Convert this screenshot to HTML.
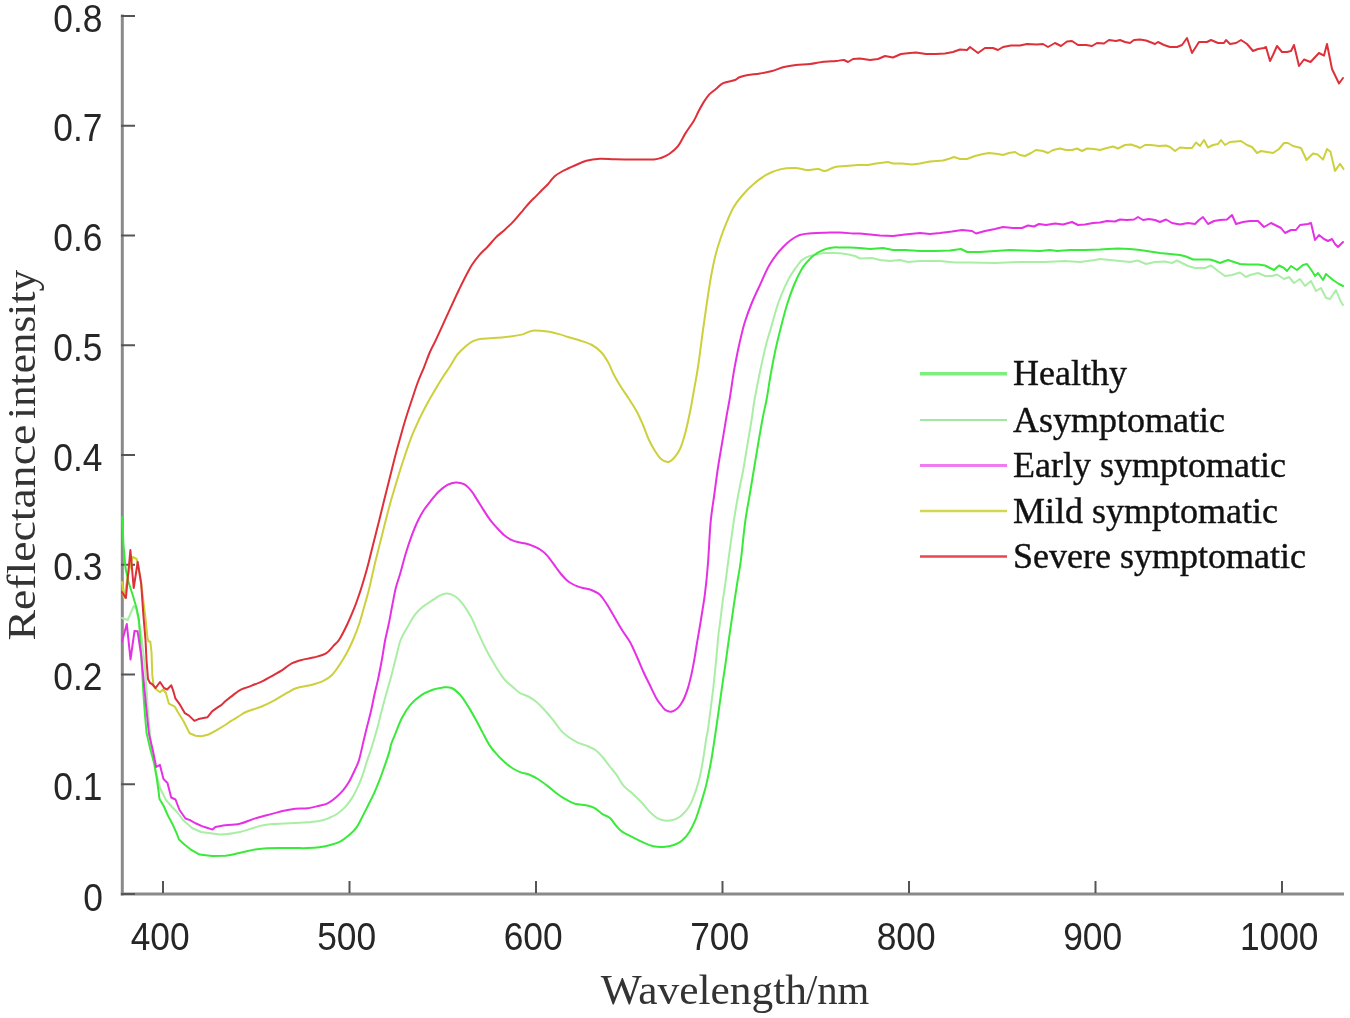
<!DOCTYPE html>
<html><head><meta charset="utf-8"><title>Reflectance spectra</title>
<style>
html,body{margin:0;padding:0;background:#fff;}
body{width:1350px;height:1018px;overflow:hidden;}
svg{display:block;}
.tl{font-family:"Liberation Sans",Arial,sans-serif;font-size:38px;fill:#262626;}
.at{font-family:"Liberation Serif","Times New Roman",serif;font-size:43px;fill:#333;}
.at2{font-family:"Liberation Serif","Times New Roman",serif;font-size:44px;fill:#333;}
.lg{font-family:"Liberation Serif","Times New Roman",serif;font-size:36px;fill:#111;stroke:#111;stroke-width:0.4px;}
</style></head>
<body>
<svg width="1350" height="1018" viewBox="0 0 1350 1018">
<rect width="1350" height="1018" fill="#fff"/>
<line x1="122.3" y1="14.5" x2="122.3" y2="895.5" stroke="#8a8a8a" stroke-width="3"/>
<line x1="120.8" y1="894" x2="1344" y2="894" stroke="#8a8a8a" stroke-width="3"/>
<line x1="121" y1="894.00" x2="135" y2="894.00" stroke="#555" stroke-width="2"/>
<line x1="121" y1="784.25" x2="135" y2="784.25" stroke="#555" stroke-width="2"/>
<line x1="121" y1="674.50" x2="135" y2="674.50" stroke="#555" stroke-width="2"/>
<line x1="121" y1="564.75" x2="135" y2="564.75" stroke="#555" stroke-width="2"/>
<line x1="121" y1="455.00" x2="135" y2="455.00" stroke="#555" stroke-width="2"/>
<line x1="121" y1="345.25" x2="135" y2="345.25" stroke="#555" stroke-width="2"/>
<line x1="121" y1="235.50" x2="135" y2="235.50" stroke="#555" stroke-width="2"/>
<line x1="121" y1="125.75" x2="135" y2="125.75" stroke="#555" stroke-width="2"/>
<line x1="121" y1="16.00" x2="135" y2="16.00" stroke="#555" stroke-width="2"/>
<line x1="163.00" y1="881" x2="163.00" y2="893" stroke="#555" stroke-width="2"/>
<line x1="349.50" y1="881" x2="349.50" y2="893" stroke="#555" stroke-width="2"/>
<line x1="536.00" y1="881" x2="536.00" y2="893" stroke="#555" stroke-width="2"/>
<line x1="722.50" y1="881" x2="722.50" y2="893" stroke="#555" stroke-width="2"/>
<line x1="909.00" y1="881" x2="909.00" y2="893" stroke="#555" stroke-width="2"/>
<line x1="1095.50" y1="881" x2="1095.50" y2="893" stroke="#555" stroke-width="2"/>
<line x1="1282.00" y1="881" x2="1282.00" y2="893" stroke="#555" stroke-width="2"/>
<text x="0" y="0" transform="translate(103.0,911.00) scale(0.93,1)" text-anchor="end" class="tl">0</text>
<text x="0" y="0" transform="translate(102.5,799.95) scale(0.93,1)" text-anchor="end" class="tl">0.1</text>
<text x="0" y="0" transform="translate(102.5,690.20) scale(0.93,1)" text-anchor="end" class="tl">0.2</text>
<text x="0" y="0" transform="translate(102.5,580.45) scale(0.93,1)" text-anchor="end" class="tl">0.3</text>
<text x="0" y="0" transform="translate(102.5,470.70) scale(0.93,1)" text-anchor="end" class="tl">0.4</text>
<text x="0" y="0" transform="translate(102.5,360.95) scale(0.93,1)" text-anchor="end" class="tl">0.5</text>
<text x="0" y="0" transform="translate(102.5,251.20) scale(0.93,1)" text-anchor="end" class="tl">0.6</text>
<text x="0" y="0" transform="translate(102.5,141.45) scale(0.93,1)" text-anchor="end" class="tl">0.7</text>
<text x="0" y="0" transform="translate(102.5,31.70) scale(0.93,1)" text-anchor="end" class="tl">0.8</text>
<text x="0" y="0" transform="translate(160.20,950) scale(0.93,1)" text-anchor="middle" class="tl">400</text>
<text x="0" y="0" transform="translate(346.70,950) scale(0.93,1)" text-anchor="middle" class="tl">500</text>
<text x="0" y="0" transform="translate(533.20,950) scale(0.93,1)" text-anchor="middle" class="tl">600</text>
<text x="0" y="0" transform="translate(719.70,950) scale(0.93,1)" text-anchor="middle" class="tl">700</text>
<text x="0" y="0" transform="translate(906.20,950) scale(0.93,1)" text-anchor="middle" class="tl">800</text>
<text x="0" y="0" transform="translate(1092.70,950) scale(0.93,1)" text-anchor="middle" class="tl">900</text>
<text x="0" y="0" transform="translate(1279.20,950) scale(0.93,1)" text-anchor="middle" class="tl">1000</text>
<text x="0" y="0" transform="translate(600.7,1004.4) scale(1.01,1)" class="at">Wavelength</text>
<text x="0" y="0" transform="translate(805.9,1004.4) scale(0.948,1)" class="at">/nm</text>
<text x="0" y="0" transform="translate(35.3,640.4) rotate(-90) scale(1.039,0.93)" class="at2">Reflectance</text>
<text x="0" y="0" transform="translate(35.3,419.1) rotate(-90) scale(0.985,0.93)" class="at2">intensity</text>
<path d="M122.0,618.0L127.8,620.0L133.7,606.0L136.7,610.0L141.6,637.5L145.0,668.0L148.0,712.0L151.0,745.0L155.3,770.0L160.0,788.0L166.0,800.0L172.0,807.0L177.0,812.0L183.0,820.0L192.0,828.0L201.0,832.0L220.0,834.5C226.5,834.5 233.3,833.4 240.0,832.0C246.7,830.6 254.7,827.2 260.0,825.9C265.3,824.6 267.9,824.5 271.9,824.1C275.8,823.7 279.8,823.7 283.7,823.5C287.6,823.3 291.7,823.1 295.6,822.9C299.6,822.7 303.4,822.6 307.4,822.3C311.3,822.0 315.8,821.8 319.3,821.1C322.9,820.4 325.8,819.3 328.7,818.1C331.6,816.9 334.2,815.9 337.0,814.0C339.8,812.1 342.7,809.7 345.3,806.9C347.9,804.1 350.2,800.9 352.4,797.4C354.6,793.9 356.6,789.5 358.4,785.6C360.2,781.7 361.7,777.7 363.1,773.7C364.5,769.8 365.4,765.9 366.7,761.9C368.0,757.9 369.7,753.3 370.8,750.0C371.9,746.7 372.1,746.0 373.3,741.9C374.5,737.8 376.7,730.4 378.1,725.3C379.5,720.2 380.2,716.4 381.6,711.1C383.0,705.8 384.8,699.0 386.4,693.3C388.0,687.6 389.5,682.6 391.1,676.7C392.7,670.8 394.3,663.9 395.9,657.8C397.5,651.7 398.6,645.2 400.6,640.0C402.6,634.8 405.3,630.9 407.7,626.7C410.1,622.5 412.2,618.2 414.8,614.8C417.4,611.4 419.9,609.1 423.1,606.5C426.3,603.9 431.0,601.3 433.8,599.4C436.6,597.5 437.9,596.3 440.1,595.3C442.3,594.3 444.6,593.4 447.2,593.6C449.8,593.8 452.8,594.8 455.4,596.5C457.9,598.2 459.9,600.2 462.5,603.6C465.1,607.0 468.2,611.9 470.8,616.6C473.4,621.3 475.5,626.8 477.8,631.9C480.1,637.0 482.5,642.5 484.9,647.2C487.3,651.9 489.5,655.9 492.0,660.2C494.5,664.5 497.8,669.9 500.0,673.2C502.2,676.5 502.7,677.5 505.0,680.0C507.3,682.5 511.4,685.7 513.9,687.9C516.4,690.1 517.6,691.7 520.0,693.1C522.4,694.5 525.5,695.0 528.3,696.5C531.0,698.0 533.8,699.7 536.5,702.0C539.2,704.3 542.0,707.3 544.8,710.3C547.5,713.3 550.2,716.5 553.0,719.9C555.8,723.3 558.5,727.9 561.3,730.9C564.0,733.9 566.8,735.8 569.5,737.8C572.2,739.8 574.8,741.2 577.8,742.6C580.8,744.0 584.4,744.7 587.4,746.0C590.4,747.3 593.2,748.4 595.7,750.2C598.2,752.0 600.2,754.4 602.5,757.0C604.8,759.6 607.1,763.0 609.4,766.0C611.7,769.0 614.0,771.3 616.4,774.7C618.8,778.1 621.2,783.0 624.0,786.2C626.8,789.4 630.0,791.1 633.0,793.9C636.0,796.7 639.1,799.8 641.9,802.8C644.7,805.8 647.0,809.2 649.6,811.7C652.2,814.2 654.5,816.6 657.3,818.1C660.1,819.6 663.0,820.6 666.2,820.7C669.4,820.8 673.4,820.1 676.4,818.8C679.4,817.5 681.8,815.5 684.1,813.0C686.5,810.5 688.6,807.7 690.5,804.1C692.4,800.5 694.1,795.6 695.6,791.3C697.1,787.0 698.3,782.8 699.4,778.5C700.5,774.2 701.1,770.5 702.0,765.8C702.9,761.1 703.8,755.2 704.5,750.4C705.2,745.6 705.9,740.4 706.5,737.0C707.1,733.6 707.2,734.5 707.9,730.0C708.6,725.5 709.5,717.5 710.5,710.0C711.5,702.5 712.6,694.4 713.6,685.2C714.6,676.0 715.8,663.4 716.6,655.0C717.4,646.6 717.8,640.9 718.4,635.1C719.0,629.3 719.7,625.5 720.4,620.0C721.1,614.5 721.8,607.8 722.6,602.0C723.4,596.2 724.1,592.0 725.1,585.0C726.1,578.0 727.0,570.4 728.4,560.0C729.8,549.6 732.0,533.2 733.6,522.5C735.2,511.8 736.4,504.8 738.0,496.0C739.6,487.2 741.7,478.3 743.3,469.5C744.9,460.7 746.2,451.8 747.7,443.0C749.2,434.2 751.0,423.7 752.1,416.5C753.2,409.3 753.1,407.7 754.5,400.0C755.9,392.3 758.3,379.6 760.3,370.2C762.3,360.8 764.6,350.4 766.3,343.7C768.0,337.0 768.5,336.3 770.4,329.9C772.3,323.4 775.2,312.1 777.6,305.0C780.0,297.9 782.6,291.9 784.7,287.2C786.8,282.4 788.2,279.7 790.0,276.5C791.8,273.3 793.7,270.9 795.6,268.2C797.5,265.5 799.5,262.4 801.5,260.5C803.5,258.6 804.9,257.9 807.4,256.9C809.9,255.9 813.3,255.2 816.3,254.6C819.3,254.0 821.2,253.3 825.2,253.1C829.2,252.9 835.0,252.7 840.0,253.2C845.0,253.7 851.7,255.1 855.0,256.0L860.0,258.5L872.0,258.0L880.0,260.0L890.0,261.0L900.0,260.0L908.0,262.0L920.0,261.0L940.0,261.0L955.0,262.5L970.0,262.5L995.0,263.0L1020.0,262.0L1045.0,262.0L1065.0,261.0L1080.0,262.0L1095.0,260.0L1100.0,259.0L1110.0,260.0L1120.0,261.0L1130.0,262.0L1138.0,260.5L1146.0,264.0L1155.0,262.0L1165.0,261.5L1172.0,263.0L1177.0,260.5L1183.0,263.5L1188.0,266.0L1195.0,268.0L1205.0,268.0L1211.0,265.5L1218.0,271.0L1225.0,276.0L1232.0,275.0L1240.0,272.5L1246.0,277.0L1250.0,275.0L1258.0,273.0L1265.0,276.0L1272.0,276.0L1277.0,274.5L1284.0,279.0L1289.0,277.0L1294.0,283.0L1300.0,279.0L1305.0,286.0L1311.0,281.0L1316.0,291.0L1321.0,288.0L1326.0,298.0L1330.0,299.0L1336.0,290.0L1340.0,300.0L1343.0,305.0" fill="none" stroke="#aaeea6" stroke-width="2" stroke-linejoin="round" stroke-linecap="round"/>
<path d="M122.0,517.0L123.5,545.0L125.5,568.0L128.5,582.0L133.0,596.0L136.5,608.0L139.0,620.0L141.5,660.0L143.5,695.0L145.0,715.0L146.5,732.6L150.0,748.0L154.5,764.5L157.0,780.0L158.4,790.0L159.5,799.0L163.7,806.0L167.9,815.5L172.6,824.4L176.7,833.3L179.0,839.5L184.4,844.5L190.4,849.3L199.6,854.6L212.0,856.0L225.6,855.7C229.4,855.4 232.1,854.6 235.0,854.0C237.9,853.4 240.0,852.8 243.3,852.1C246.6,851.4 251.1,850.2 255.0,849.6C258.9,849.0 262.2,848.5 267.0,848.3C271.8,848.0 278.9,848.1 283.7,848.1C288.5,848.1 291.7,848.1 295.6,848.1C299.6,848.1 303.4,848.2 307.4,848.1C311.3,848.0 315.4,847.8 319.3,847.2C323.2,846.7 327.6,845.8 331.1,844.8C334.7,843.8 337.6,842.9 340.6,841.3C343.6,839.7 346.3,837.5 348.9,835.3C351.5,833.1 353.8,831.2 356.0,828.2C358.2,825.2 359.9,821.4 361.9,817.6C363.9,813.9 365.9,809.7 367.9,805.7C369.9,801.8 371.8,798.2 373.8,793.9C375.8,789.5 377.9,784.1 379.7,779.6C381.5,775.1 382.8,771.1 384.4,766.6C386.0,762.1 388.1,756.1 389.2,752.4C390.3,748.7 390.0,747.6 391.1,744.3C392.2,741.0 394.1,736.8 395.9,732.4C397.7,728.0 399.4,722.7 401.8,718.2C404.2,713.7 407.0,709.0 410.1,705.2C413.2,701.5 416.9,698.3 420.7,695.7C424.4,693.1 428.8,691.2 432.6,689.8C436.4,688.4 440.1,687.7 443.3,687.4C446.5,687.1 448.8,686.8 451.6,688.0C454.4,689.2 457.2,691.6 459.9,694.5C462.6,697.4 465.1,701.5 467.7,705.6C470.3,709.7 473.2,714.9 475.6,719.3C478.1,723.7 480.1,727.8 482.4,732.1C484.7,736.4 487.0,741.3 489.3,744.9C491.6,748.5 493.6,750.8 496.2,753.7C498.8,756.7 502.2,760.1 505.0,762.6C507.8,765.1 510.3,766.9 512.9,768.5C515.5,770.1 518.2,771.4 520.8,772.4C523.4,773.4 525.4,773.1 528.3,774.2C531.1,775.3 534.7,777.0 537.9,779.0C541.1,781.0 544.5,783.6 547.5,785.9C550.5,788.2 553.0,790.7 555.8,792.8C558.5,794.9 560.8,796.5 564.0,798.3C567.2,800.1 571.3,802.6 575.0,803.8C578.7,804.9 582.8,804.5 586.0,805.2C589.2,805.9 591.5,806.4 594.3,807.9C597.0,809.4 599.9,812.4 602.5,814.1C605.1,815.8 607.7,816.1 610.0,818.1C612.3,820.1 614.3,823.6 616.4,826.0C618.5,828.4 620.0,830.3 622.8,832.2C625.6,834.1 629.6,835.6 633.0,837.3C636.4,839.0 639.8,840.9 643.2,842.4C646.6,843.9 650.0,845.5 653.4,846.2C656.8,847.0 660.2,847.1 663.6,846.9C667.0,846.7 670.9,846.0 673.9,845.0C676.9,844.0 679.0,843.2 681.5,841.1C684.0,839.0 686.9,835.8 689.2,832.2C691.6,828.6 693.7,824.1 695.6,819.4C697.5,814.7 699.2,808.8 700.7,804.1C702.2,799.4 703.4,795.1 704.5,791.3C705.6,787.5 706.0,786.2 707.1,781.1C708.2,776.0 710.1,766.9 711.2,760.5C712.4,754.1 713.2,747.9 714.0,742.8C714.8,737.7 715.1,735.5 715.9,730.0C716.7,724.5 717.7,717.5 718.8,710.0C719.9,702.5 721.1,693.5 722.3,685.2C723.5,676.9 724.9,668.2 726.0,660.2C727.1,652.2 728.2,643.7 729.2,637.0C730.2,630.3 730.8,626.2 731.7,620.0C732.6,613.8 733.6,606.7 734.6,600.0C735.6,593.3 736.7,586.7 737.7,580.0C738.8,573.3 739.7,569.6 740.9,560.0C742.1,550.4 743.7,533.2 745.1,522.5C746.5,511.8 748.0,504.8 749.5,496.0C751.0,487.2 752.4,478.3 753.9,469.5C755.4,460.7 756.8,451.8 758.3,443.0C759.8,434.2 761.6,423.7 763.0,416.5C764.4,409.3 765.2,406.9 766.5,400.0C767.8,393.1 769.2,383.0 770.6,375.0C772.0,367.0 773.4,359.5 775.0,352.0C776.6,344.5 778.2,337.8 780.2,330.0C782.2,322.2 784.6,312.5 786.9,305.0C789.2,297.5 791.6,290.9 794.0,285.0C796.4,279.1 799.3,273.3 801.5,269.4C803.7,265.5 805.4,264.0 807.4,261.7C809.4,259.4 810.8,257.6 813.3,255.7C815.8,253.8 819.2,251.7 822.2,250.4C825.2,249.1 828.1,248.2 831.1,247.7C834.1,247.2 836.9,247.4 840.0,247.4C843.1,247.4 846.7,247.4 850.0,247.5L860.0,248.0L870.0,249.0L883.0,248.0L893.0,250.0L905.0,250.0L920.0,251.0L935.0,251.0L950.0,250.5L961.0,249.0L967.0,252.0L980.0,252.0L995.0,251.0L1010.0,250.0L1025.0,250.5L1040.0,251.0L1050.0,250.0L1057.0,251.0L1070.0,250.0L1085.0,250.0L1100.0,249.5L1108.0,249.0L1118.0,248.5L1130.0,249.0L1140.0,250.0L1150.0,251.5L1160.0,253.0L1170.0,254.0L1180.0,255.0L1186.0,256.5L1193.0,259.5L1200.0,259.5L1210.0,259.5L1215.0,261.0L1220.0,263.0L1228.0,260.0L1234.0,262.0L1240.0,264.0L1248.0,264.5L1258.0,264.5L1265.0,265.5L1270.0,268.0L1274.0,270.0L1279.0,265.5L1284.0,268.0L1287.0,271.0L1291.0,266.0L1297.0,270.0L1303.0,265.0L1307.0,264.0L1312.0,271.0L1315.0,276.0L1318.0,273.0L1323.0,280.0L1326.0,274.0L1333.0,280.0L1339.0,284.0L1343.0,286.0" fill="none" stroke="#3aea3a" stroke-width="2" stroke-linejoin="round" stroke-linecap="round"/>
<path d="M122.0,641.5L126.8,624.0L130.5,659.5L134.5,631.0L137.6,631.3L141.3,656.0L145.3,698.0L147.5,720.0L149.0,734.0L153.0,751.0L156.2,767.0L159.9,764.9L163.5,779.0L167.5,783.0L171.2,797.5L175.5,799.5L179.5,810.0L185.5,818.5L190.0,820.1L195.0,823.0L201.9,826.1L207.0,827.8L212.5,829.6L215.5,827.0L223.2,825.5C227.2,825.0 234.5,824.9 239.8,823.7C245.1,822.5 249.7,820.1 255.2,818.4C260.7,816.7 268.2,814.9 273.0,813.6C277.8,812.3 279.9,811.6 283.7,810.8C287.5,810.0 291.7,809.1 295.6,808.7C299.6,808.3 303.4,808.8 307.4,808.3C311.3,807.8 315.9,806.5 319.3,805.7C322.7,804.9 324.8,804.7 327.6,803.3C330.4,801.9 333.3,799.6 335.9,797.4C338.5,795.2 340.8,792.9 343.0,790.3C345.2,787.7 346.9,785.4 348.9,782.0C350.9,778.6 353.1,773.8 354.8,770.1C356.5,766.4 357.6,764.8 359.1,759.7C360.6,754.6 362.5,745.3 363.9,739.6C365.3,733.9 366.2,730.0 367.4,725.3C368.6,720.5 369.8,716.2 371.0,711.1C372.2,706.0 373.3,699.8 374.5,694.5C375.7,689.2 376.9,684.6 378.1,679.1C379.3,673.6 380.4,667.8 381.6,661.3C382.8,654.8 384.0,646.2 385.2,640.0C386.4,633.8 387.5,630.1 388.7,624.3C389.9,618.5 391.1,611.4 392.3,605.3C393.5,599.2 394.6,592.8 395.9,587.6C397.2,582.4 398.3,580.1 400.0,574.3C401.7,568.5 403.9,559.5 405.9,553.0C407.9,546.5 409.9,540.5 411.9,535.2C413.9,529.9 415.8,525.1 417.8,521.0C419.8,516.9 421.5,513.7 423.7,510.3C425.9,506.9 428.2,504.0 430.8,500.8C433.4,497.6 436.3,494.0 439.1,491.3C441.9,488.6 444.6,486.3 447.4,484.8C450.2,483.3 452.9,482.5 455.7,482.4C458.5,482.3 461.4,482.8 464.0,484.2C466.6,485.6 468.9,488.1 471.1,490.7C473.3,493.3 475.0,496.5 477.0,499.6C479.0,502.7 480.8,505.7 483.0,509.1C485.2,512.5 487.7,516.6 490.1,519.8C492.5,523.0 494.8,525.5 497.2,528.1C499.6,530.7 501.9,533.2 504.3,535.2C506.7,537.2 509.0,538.7 511.4,539.9C513.8,541.1 516.1,541.7 518.5,542.3C520.9,542.9 523.2,542.9 525.6,543.5C528.0,544.1 530.3,544.9 532.7,545.9C535.1,546.9 537.5,547.8 539.9,549.4C542.3,551.0 544.3,552.3 547.0,555.3C549.7,558.3 553.8,564.4 556.1,567.5C558.4,570.6 559.3,571.9 561.0,574.0C562.7,576.1 564.8,578.3 566.5,579.9C568.2,581.5 569.8,582.5 571.5,583.5C573.2,584.5 575.0,585.4 576.9,586.1C578.8,586.9 580.9,587.5 583.0,588.0C585.1,588.5 587.4,588.7 589.3,589.3C591.2,589.9 592.8,590.6 594.5,591.5C596.2,592.4 598.1,593.0 599.7,594.4C601.3,595.8 602.6,598.1 604.0,600.0C605.4,601.9 606.2,603.0 608.0,606.0C609.8,609.0 612.7,614.0 615.0,618.0C617.3,622.0 619.5,626.0 622.0,630.0C624.5,634.0 627.5,637.5 630.0,642.0C632.5,646.5 634.8,652.2 637.0,657.0C639.2,661.8 640.9,666.3 643.0,671.0C645.1,675.7 647.5,680.3 649.8,685.0C652.1,689.7 654.9,695.9 656.9,699.3C658.9,702.7 660.1,703.7 661.5,705.5C662.9,707.3 663.6,708.9 665.2,709.9C666.8,710.9 669.1,711.9 671.1,711.7C673.1,711.5 675.4,710.0 677.0,708.7C678.6,707.4 679.8,705.9 681.0,704.0C682.2,702.1 683.3,700.4 684.5,697.5C685.7,694.6 687.2,690.6 688.3,686.9C689.4,683.1 690.4,678.8 691.3,675.0C692.2,671.2 692.9,667.2 693.5,664.0C694.1,660.8 694.4,659.1 695.0,655.6C695.6,652.1 696.0,648.9 697.0,643.0C698.0,637.1 699.6,628.3 700.9,620.0C702.2,611.7 703.8,602.9 705.0,593.4C706.2,583.9 707.1,574.8 708.0,563.0C708.9,551.2 709.6,533.7 710.6,522.5C711.6,511.3 712.9,504.8 714.1,496.0C715.3,487.2 716.4,478.3 717.7,469.5C719.0,460.7 720.6,451.8 722.1,443.0C723.6,434.2 725.3,423.7 726.5,416.5C727.7,409.3 728.2,407.7 729.5,400.0C730.8,392.3 732.5,379.6 734.1,370.2C735.8,360.8 737.6,351.6 739.4,343.7C741.2,335.8 742.6,329.3 744.7,322.5C746.8,315.7 749.1,309.5 751.8,303.0C754.4,296.5 757.6,290.1 760.6,283.6C763.6,277.1 766.2,270.2 770.0,264.0C773.8,257.8 779.0,251.2 783.6,246.5C788.2,241.8 793.0,238.1 797.7,235.9C802.4,233.7 807.2,233.8 811.9,233.3C816.6,232.8 821.3,232.8 826.0,232.7C830.7,232.6 835.5,232.4 840.0,232.5C844.5,232.6 849.7,233.3 853.0,233.5L860.0,233.5L870.0,234.5L880.0,235.5L893.0,236.0L905.0,234.5L920.0,233.0L930.0,234.0L940.0,233.0L952.0,231.5L962.0,230.0L972.0,231.0L976.0,233.5L985.0,231.0L995.0,229.0L1003.0,227.0L1013.0,228.0L1022.0,228.0L1028.0,225.5L1034.0,226.5L1039.0,224.0L1046.0,225.0L1055.0,223.5L1063.0,224.5L1072.0,222.0L1078.0,225.0L1085.0,224.5L1093.0,223.0L1100.0,222.5L1107.0,221.0L1115.0,221.5L1120.0,219.5L1127.0,220.0L1134.0,219.5L1138.0,217.0L1143.0,220.0L1149.0,219.0L1155.0,220.0L1160.0,222.0L1166.0,219.5L1172.0,223.0L1180.0,224.5L1188.0,223.0L1195.0,224.0L1199.0,220.0L1203.0,217.0L1208.0,224.0L1214.0,221.0L1220.0,220.0L1227.0,219.5L1232.0,215.0L1236.0,224.0L1243.0,222.0L1250.0,221.0L1258.0,221.0L1264.0,227.0L1271.0,223.0L1277.0,226.0L1281.0,228.0L1285.0,233.0L1291.0,230.0L1296.0,230.0L1300.0,225.0L1308.0,224.0L1311.0,223.0L1315.0,240.0L1319.0,235.0L1324.0,239.0L1328.0,241.0L1332.0,239.0L1335.0,244.0L1338.0,247.0L1343.0,242.0" fill="none" stroke="#e630e6" stroke-width="2" stroke-linejoin="round" stroke-linecap="round"/>
<path d="M122.0,582.0L124.0,598.0L128.0,575.0L132.7,557.0L136.7,559.0L140.6,578.6L145.5,618.0L147.5,638.0L148.5,641.5L150.3,641.5L151.5,652.0L152.3,675.0L153.5,685.0L154.8,687.8L157.0,690.0L160.0,692.2L163.0,689.5L165.9,693.0L168.9,703.7L174.8,706.7L177.8,712.0L183.7,721.5L189.6,733.3L195.6,735.7L201.5,736.3L208.6,734.5L216.3,730.4L225.2,725.0L231.1,720.9C233.6,719.3 237.5,717.0 240.0,715.5C242.5,714.0 242.5,713.5 246.0,712.0C249.5,710.5 256.4,708.6 261.1,706.7C265.8,704.8 269.9,702.8 274.4,700.4C278.8,698.0 284.1,694.5 287.8,692.4C291.5,690.3 293.0,689.2 296.7,688.0C300.4,686.8 305.6,686.5 310.0,685.3C314.4,684.1 319.6,682.7 323.3,680.9C327.0,679.1 329.2,677.8 332.2,674.7C335.2,671.6 338.7,666.1 341.2,662.3C343.7,658.5 345.3,655.6 347.3,651.9C349.3,648.2 351.0,644.6 353.0,640.0C355.0,635.4 357.3,629.7 359.1,624.3C360.9,618.9 362.3,613.2 363.9,607.7C365.5,602.2 367.2,596.4 368.6,591.1C370.0,585.8 370.9,580.8 372.1,575.7C373.3,570.6 374.5,565.2 375.7,560.3C376.9,555.4 378.1,550.8 379.3,546.1C380.5,541.4 381.7,536.2 382.8,531.9C383.9,527.5 384.4,525.3 385.8,520.0C387.2,514.7 389.2,506.9 391.1,500.0C393.1,493.1 395.3,485.8 397.5,478.6C399.7,471.4 402.1,463.9 404.4,457.0C406.7,450.1 408.9,443.5 411.3,437.3C413.7,431.1 416.3,425.6 418.9,420.0C421.5,414.4 424.4,408.8 427.1,403.7C429.8,398.6 432.8,393.8 435.3,389.5C437.9,385.2 440.0,381.5 442.4,377.8C444.8,374.1 446.9,371.1 449.5,367.2C452.1,363.3 454.9,357.7 457.7,354.2C460.4,350.7 463.4,348.2 466.0,346.0C468.6,343.8 470.7,342.4 473.0,341.2C475.3,340.0 476.6,339.4 480.0,338.9C483.4,338.4 488.2,338.5 493.3,338.1C498.4,337.7 505.5,337.0 510.4,336.4C515.3,335.8 519.0,335.3 522.7,334.4C526.4,333.4 528.4,331.2 532.5,330.7C536.6,330.2 542.6,330.9 547.2,331.5C551.8,332.1 556.5,333.5 560.0,334.4C563.5,335.3 564.7,336.0 568.0,337.0C571.3,338.0 576.0,339.2 580.0,340.5C584.0,341.8 588.5,343.1 592.0,345.0C595.5,346.9 598.3,349.2 601.0,352.0C603.7,354.8 605.8,358.2 608.0,362.0C610.2,365.8 611.8,370.8 614.0,375.0C616.2,379.2 618.5,383.0 621.0,387.0C623.5,391.0 626.3,394.8 629.0,399.0C631.7,403.2 634.7,407.7 637.0,412.0C639.3,416.3 641.0,420.3 643.0,425.0C645.0,429.7 647.0,435.7 649.0,440.0C651.0,444.3 653.0,447.8 655.0,451.0C657.0,454.2 658.8,457.2 661.0,459.0C663.2,460.8 665.8,462.2 668.0,462.0C670.2,461.8 672.0,460.2 674.0,458.0C676.0,455.8 678.2,453.0 680.0,449.0C681.8,445.0 683.3,440.2 685.0,434.0C686.7,427.8 688.5,419.3 690.0,412.0C691.5,404.7 692.7,397.5 694.0,390.0C695.3,382.5 696.5,377.0 698.0,367.0C699.5,357.0 701.6,340.2 703.0,330.0C704.4,319.8 705.2,314.3 706.5,305.5C707.8,296.7 709.4,285.4 710.9,277.2C712.4,268.9 713.7,262.5 715.3,256.0C716.9,249.5 718.8,243.6 720.6,238.3C722.4,233.0 723.8,229.2 725.9,224.2C728.0,219.2 730.4,213.0 733.0,208.3C735.6,203.6 738.3,200.1 741.8,196.0C745.3,191.9 750.1,187.2 754.2,183.6C758.3,180.0 762.3,177.1 766.6,174.7C770.9,172.3 775.3,170.5 780.0,169.4C784.7,168.3 790.5,167.9 795.0,168.0C799.5,168.1 803.2,169.8 807.0,170.0C810.8,170.2 815.0,168.8 818.0,169.0C821.0,169.2 822.2,171.3 825.0,171.0C827.8,170.7 831.5,167.8 835.0,167.0C838.5,166.2 842.2,166.3 846.0,166.0L858.0,165.0L868.0,165.0L876.0,163.5L888.0,162.0L893.0,163.5L902.0,163.5L912.0,164.5L920.0,163.5L930.0,161.5L943.0,160.5L950.0,158.5L954.0,157.0L960.0,159.0L967.0,159.0L975.0,156.0L983.0,154.0L989.0,153.0L998.0,154.0L1003.0,155.0L1009.0,153.0L1015.0,152.0L1020.0,155.0L1025.0,156.0L1031.0,153.0L1036.0,150.0L1043.0,151.0L1048.0,153.0L1053.0,150.0L1060.0,148.5L1066.0,150.0L1072.0,150.0L1077.0,148.5L1082.0,151.0L1087.0,148.5L1094.0,149.0L1100.0,150.0L1105.0,148.5L1113.0,146.5L1118.0,148.5L1125.0,145.0L1131.0,144.5L1137.0,146.5L1140.0,148.0L1145.0,145.0L1151.0,145.0L1159.0,146.0L1166.0,145.5L1170.0,147.0L1175.0,151.0L1180.0,147.5L1186.0,148.0L1192.0,148.0L1196.0,142.5L1200.0,146.0L1204.0,140.0L1208.0,147.5L1213.0,145.0L1218.0,144.0L1221.0,140.0L1225.0,145.0L1230.0,142.0L1236.0,141.5L1241.0,141.0L1247.0,145.0L1252.0,147.0L1257.0,153.0L1261.0,151.0L1267.0,152.0L1273.0,153.0L1279.0,149.0L1284.0,143.0L1288.0,143.0L1293.0,146.0L1301.0,148.0L1306.5,160.0L1313.0,153.5L1317.6,154.4L1323.0,159.6L1327.0,149.0L1330.5,151.7L1335.0,171.0L1340.0,163.7L1343.5,169.0" fill="none" stroke="#cdd03c" stroke-width="2" stroke-linejoin="round" stroke-linecap="round"/>
<path d="M122.0,592.0L125.9,598.0L130.4,550.0L133.7,588.0L137.7,562.0L141.2,584.0L143.3,614.0L145.5,640.0L146.5,660.0L148.0,679.0L150.0,683.0L152.0,684.0L155.6,688.0L160.0,682.0L164.0,688.0L167.1,689.5L171.3,685.3L173.6,691.9L175.4,698.4L180.1,704.9L184.9,713.2L189.0,715.6L194.4,720.9L198.5,719.1L207.4,717.3L212.1,711.4L216.9,707.9L221.6,704.9L225.2,701.3L231.1,696.6C233.6,694.7 237.2,691.7 240.0,690.1C242.8,688.5 244.3,688.5 247.8,687.1C251.3,685.7 257.0,683.7 261.1,681.8C265.2,679.9 269.0,677.7 272.7,675.6C276.4,673.5 280.1,671.4 283.3,669.3C286.6,667.2 288.9,664.7 292.2,663.1C295.5,661.5 299.2,660.6 302.9,659.6C306.6,658.6 310.5,658.3 314.4,657.3C318.2,656.2 322.7,655.3 326.0,653.3C329.3,651.3 331.8,647.6 334.0,645.3C336.2,643.0 337.1,643.0 339.3,639.5C341.5,636.0 344.8,629.6 347.3,624.3C349.8,619.0 352.2,613.2 354.4,607.7C356.6,602.2 358.5,596.4 360.3,591.1C362.1,585.8 363.6,580.4 365.0,575.7C366.4,571.0 367.4,567.2 368.6,562.7C369.8,558.2 370.9,553.1 372.1,548.4C373.3,543.6 374.5,538.9 375.7,534.2C376.9,529.5 377.9,525.7 379.3,520.0C380.7,514.3 382.5,506.9 384.2,500.0C385.9,493.1 387.7,486.1 389.6,478.6C391.5,471.1 393.5,462.5 395.5,455.0C397.5,447.5 399.8,439.2 401.4,433.4C403.0,427.6 403.6,425.6 405.3,420.0C407.0,414.4 409.7,406.2 411.8,400.0C413.9,393.8 415.7,387.8 417.7,382.5C419.7,377.2 421.6,373.2 423.6,368.3C425.6,363.4 427.6,357.5 429.5,353.0C431.4,348.5 433.4,345.3 435.3,341.2C437.2,337.1 439.2,332.6 441.2,328.3C443.2,324.0 444.9,320.0 447.1,315.3C449.3,310.6 452.2,304.3 454.2,300.0C456.2,295.7 457.0,293.8 459.0,289.7C461.0,285.6 463.9,279.6 466.1,275.5C468.3,271.4 469.8,268.2 472.0,264.8C474.2,261.4 476.5,258.3 479.1,255.3C481.7,252.3 484.6,249.9 487.4,247.0C490.2,244.1 492.9,240.4 495.7,237.6C498.5,234.8 501.4,232.7 504.0,230.4C506.6,228.1 508.9,226.1 511.1,223.9C513.3,221.7 515.0,219.7 517.0,217.4C519.0,215.1 520.8,212.9 523.0,210.3C525.2,207.7 527.9,204.4 530.1,202.0C532.3,199.6 534.3,197.9 536.3,195.9C538.3,193.9 540.1,191.9 542.0,190.0C543.9,188.1 546.2,186.1 547.9,184.3C549.6,182.5 550.7,180.7 552.0,179.2C553.3,177.7 553.9,176.8 555.6,175.5C557.3,174.2 559.9,172.7 562.0,171.5C564.1,170.3 565.9,169.5 568.0,168.5C570.1,167.5 571.7,166.8 574.8,165.5C577.9,164.2 582.2,161.9 586.4,160.8C590.6,159.7 595.1,159.1 599.9,158.8C604.7,158.6 609.5,159.2 615.0,159.3C620.5,159.4 626.5,159.5 633.0,159.5C639.5,159.5 649.2,159.7 654.0,159.4C658.8,159.1 659.1,158.6 661.6,157.7C664.1,156.8 666.5,155.9 669.2,154.0C671.9,152.1 675.1,149.8 677.8,146.4C680.5,143.0 682.7,137.7 685.4,133.4C688.1,129.1 691.9,124.1 694.0,120.5C696.1,116.9 696.7,114.9 698.3,111.8C699.9,108.7 701.9,105.0 703.7,102.1C705.5,99.2 707.1,96.8 709.1,94.6C711.1,92.4 713.2,91.1 715.6,89.2C718.0,87.3 720.0,84.7 723.2,83.2C726.4,81.7 732.3,81.0 735.0,80.0C737.7,79.0 737.2,78.1 739.4,77.3C741.6,76.5 744.6,75.7 748.0,75.1C751.4,74.5 756.0,74.2 760.0,73.5C764.0,72.8 768.0,72.1 772.0,71.0C776.0,69.9 780.0,68.0 784.0,67.0C788.0,66.0 791.7,65.5 796.0,65.0C800.3,64.5 805.7,64.5 810.0,64.0C814.3,63.5 817.7,62.5 822.0,62.0C826.3,61.5 832.3,61.3 836.0,61.0C839.7,60.7 842.0,59.8 844.0,60.0L848.0,62.0L853.0,59.0L860.0,58.5L870.0,60.0L878.0,59.0L885.0,56.0L893.0,57.5L901.0,54.0L910.0,53.0L916.0,52.5L926.0,54.0L936.0,54.0L945.0,53.5L953.0,52.0L960.0,49.5L967.0,50.0L970.0,47.0L978.0,53.0L985.0,48.0L993.0,48.0L998.0,50.0L1003.0,47.0L1011.0,45.5L1020.0,45.5L1027.0,44.0L1037.0,44.5L1043.0,44.0L1048.0,47.0L1055.0,43.0L1061.0,46.0L1067.0,41.5L1072.0,41.0L1078.0,45.0L1086.0,45.0L1092.0,46.0L1097.0,43.0L1104.0,43.5L1109.0,40.0L1116.0,41.0L1120.0,40.0L1125.0,42.0L1130.0,43.0L1134.0,40.0L1140.0,39.5L1146.0,40.5L1150.0,42.0L1155.0,44.0L1158.0,42.0L1164.0,45.0L1170.0,47.0L1177.0,47.0L1182.0,45.0L1187.0,38.0L1192.0,53.0L1199.0,42.0L1207.0,42.0L1211.0,40.0L1218.0,43.0L1224.0,43.0L1226.0,40.0L1230.0,44.0L1236.0,43.0L1241.0,40.0L1247.0,44.0L1253.0,51.0L1258.0,49.0L1264.0,48.0L1266.0,47.0L1270.0,61.0L1273.0,55.0L1277.0,46.0L1282.0,52.0L1287.0,52.0L1291.0,51.0L1294.0,45.0L1299.0,66.0L1304.0,59.5L1310.5,62.0L1319.0,53.0L1324.0,55.6L1327.0,44.0L1332.0,69.0L1339.0,83.5L1343.0,78.0" fill="none" stroke="#de3039" stroke-width="2" stroke-linejoin="round" stroke-linecap="round"/>
<line x1="920" y1="373.7" x2="1007" y2="373.7" stroke="#7cee7c" stroke-width="3.5"/>
<text x="1013" y="385.2" class="lg">Healthy</text>
<line x1="920" y1="420" x2="1007" y2="420" stroke="#a2e8a2" stroke-width="2"/>
<text x="1013" y="431.5" class="lg">Asymptomatic</text>
<line x1="920" y1="465.5" x2="1007" y2="465.5" stroke="#f07af0" stroke-width="3"/>
<text x="1013" y="477.0" class="lg">Early symptomatic</text>
<line x1="920" y1="511" x2="1007" y2="511" stroke="#d2d750" stroke-width="2.5"/>
<text x="1013" y="522.5" class="lg">Mild symptomatic</text>
<line x1="920" y1="556.4" x2="1007" y2="556.4" stroke="#ea4650" stroke-width="2.5"/>
<text x="1013" y="567.9" class="lg">Severe symptomatic</text>
</svg>
</body></html>
